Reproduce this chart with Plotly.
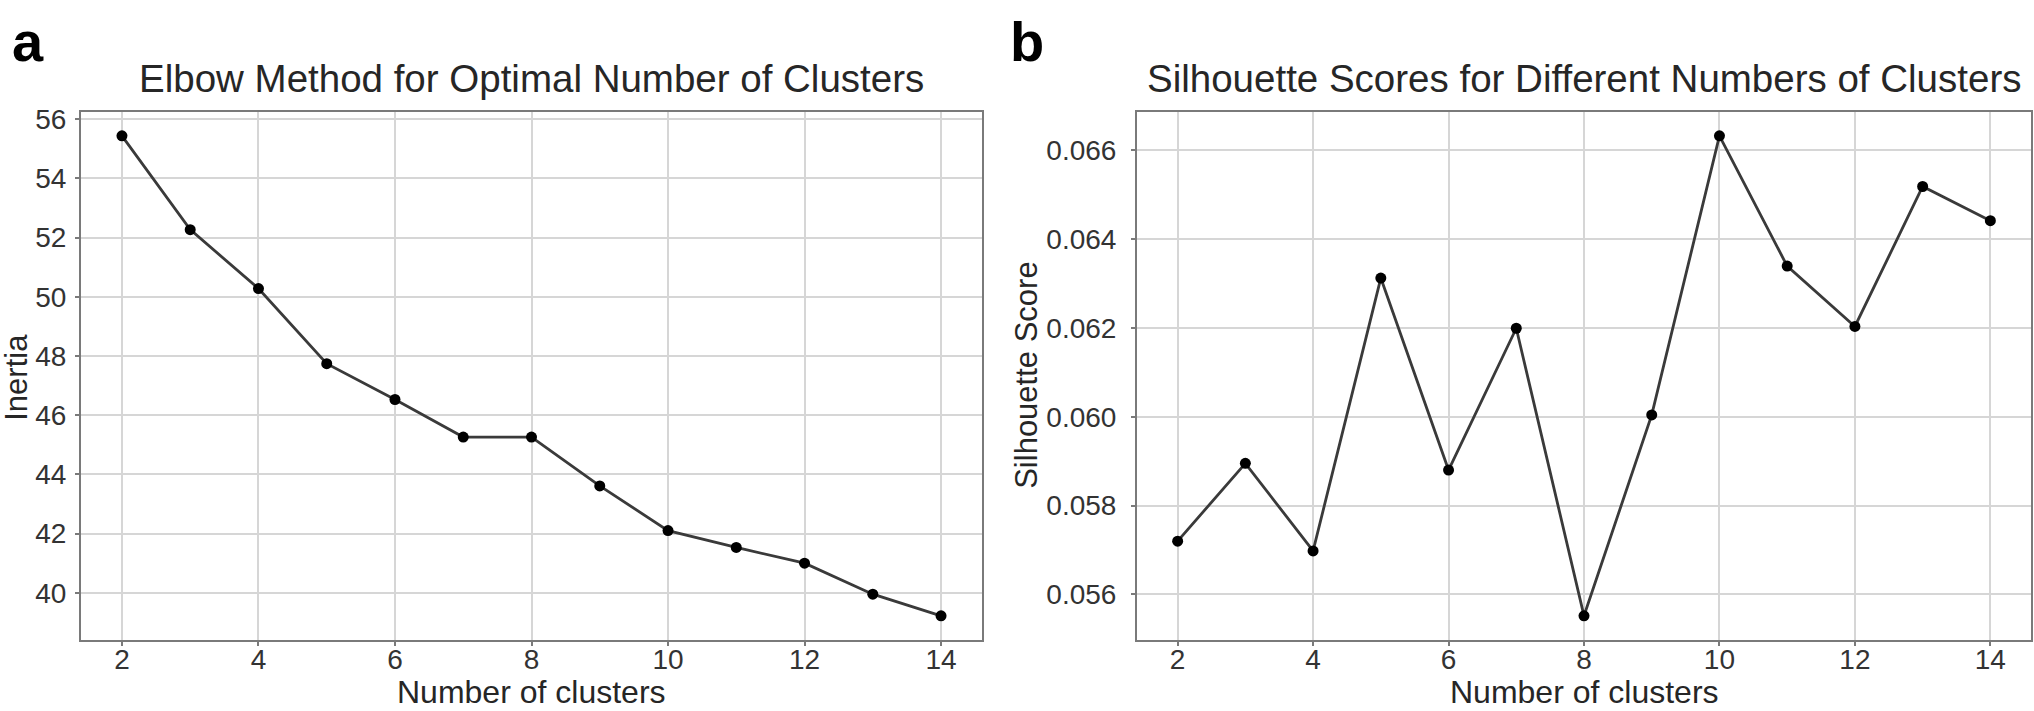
import plotly.graph_objects as go

clusters = [2, 3, 4, 5, 6, 7, 8, 9, 10, 11, 12, 13, 14]
inertia = [55.44, 52.27, 50.28, 47.74, 46.53, 45.26, 45.26, 43.61, 42.10, 41.53, 41.00, 39.95, 39.22]
silhouette = [0.05720, 0.05895, 0.05698, 0.06312, 0.05880, 0.06199, 0.05552, 0.06004,
              0.06632, 0.06339, 0.06203, 0.06518, 0.06441]

titles = ["Elbow Method for Optimal Number of Clusters",
          "Silhouette Scores for Different Numbers of Clusters"]
xlabel = "Number of clusters"
ylabels = ["Inertia", "Silhouette Score"]
panel_labels = ["a", "b"]

W, H = 2034, 711
FONT = "Liberation Sans, Arial, sans-serif"
TXT = "#262626"

fig = go.Figure()
line_style = dict(color="#3a3a3a", width=2.8)
marker_style = dict(color="#000000", size=11)
fig.add_trace(go.Scatter(x=clusters, y=inertia, mode="lines+markers",
                         line=line_style, marker=marker_style, xaxis="x", yaxis="y"))
fig.add_trace(go.Scatter(x=clusters, y=silhouette, mode="lines+markers",
                         line=line_style, marker=marker_style, xaxis="x2", yaxis="y2"))

ydom = [1 - 639 / H, 1 - 105 / H]
xdom1 = [81 / W, 982 / W]
xdom2 = [1137 / W, 2031 / W]

common = dict(showline=True, mirror=True, linecolor="#7a7a7a", linewidth=2,
              showgrid=True, gridcolor="#d6d6d6", gridwidth=1.8, zeroline=False,
              ticks="outside", ticklen=4, tickcolor="#7a7a7a", tickwidth=1.5,
              tickfont=dict(family=FONT, size=28, color="#333333"))


def span(vals):
    lo, hi = min(vals), max(vals)
    pad = (hi - lo) * 0.05
    return [lo - pad, hi + pad]


xr = span(clusters)
fig.update_layout(
    width=W, height=H, margin=dict(l=0, r=0, t=0, b=0),
    paper_bgcolor="white", plot_bgcolor="white", showlegend=False,
    xaxis=dict(domain=xdom1, anchor="y", range=xr, tick0=2, dtick=2,
               ticklabelstandoff=-10, **common),
    yaxis=dict(domain=ydom, anchor="x", range=span(inertia), tick0=40, dtick=2,
               ticklabelstandoff=3, **common),
    xaxis2=dict(domain=xdom2, anchor="y2", range=xr, tick0=2, dtick=2,
                ticklabelstandoff=-10, **common),
    yaxis2=dict(domain=ydom, anchor="x2", range=span(silhouette), tick0=0.056, dtick=0.002,
                tickformat=".3f", ticklabelstandoff=9, **common),
)

anns = []
for i, xd in enumerate([xdom1, xdom2]):
    cx = (xd[0] + xd[1]) / 2
    anns.append(dict(text=titles[i], x=cx, y=1 - 71 / H, xref="paper", yref="paper",
                     xanchor="center", yanchor="middle", showarrow=False,
                     font=dict(family=FONT, size=38.5, color=TXT)))
    anns.append(dict(text=xlabel, x=cx, y=1 - 692 / H, xref="paper", yref="paper",
                     xanchor="center", yanchor="middle", showarrow=False,
                     font=dict(family=FONT, size=32, color=TXT)))
anns.append(dict(text=ylabels[0], x=17 / W, y=1 - 374 / H, xref="paper", yref="paper",
                 xanchor="center", yanchor="middle", textangle=-90, showarrow=False,
                 font=dict(family=FONT, size=31, color=TXT)))
anns.append(dict(text=ylabels[1], x=1027 / W, y=1 - 372 / H, xref="paper", yref="paper",
                 xanchor="center", yanchor="middle", textangle=-90, showarrow=False,
                 font=dict(family=FONT, size=31, color=TXT)))
for lab, px in zip(panel_labels, [10, 1008]):
    anns.append(dict(text="<b>%s</b>" % lab, x=px / W, y=1.0, xref="paper", yref="paper",
                     xanchor="left", yanchor="top", showarrow=False,
                     font=dict(family=FONT, size=56, color="#000000")))
fig.update_layout(annotations=anns)

fig.write_html("out.html")
